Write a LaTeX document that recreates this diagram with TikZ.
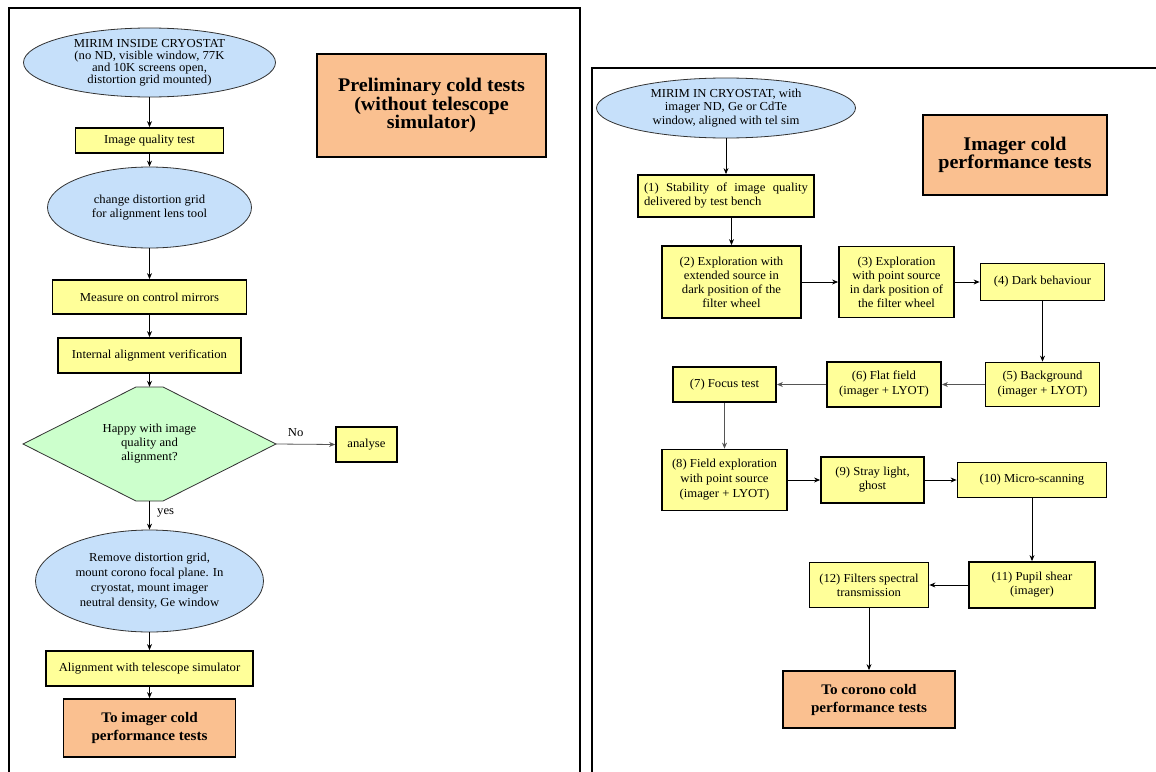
\documentclass[tikz,border=0pt]{standalone}
\usepackage{fontspec}
\setmainfont{Liberation Serif}[FakeStretch=1.04]
\usetikzlibrary{shapes.geometric,arrows.meta}
\definecolor{ellblue}{RGB}{198,224,250}
\definecolor{boxyellow}{RGB}{255,255,153}
\definecolor{orangebox}{RGB}{250,192,144}
\definecolor{diagreen}{RGB}{204,255,204}
\definecolor{edgegray}{RGB}{50,50,50}
\definecolor{arrgray}{RGB}{85,85,85}
\begin{document}
\begin{tikzpicture}[x=1pt,y=-1pt,
  every node/.style={font=\fontsize{12.2}{14}\selectfont},
  wh/.style 2 args={minimum width=#1pt,minimum height=#2pt},
  ell/.style={ellipse,draw=edgegray,line width=0.8pt,fill=ellblue,inner sep=0pt,align=center},
  ybox/.style={rectangle,draw=black,line width=1.8pt,fill=boxyellow,inner sep=2pt,align=center},
  obox/.style={rectangle,draw=black,line width=1.8pt,fill=orangebox,inner sep=2pt,align=center},
  titlefont/.style={font=\fontsize{19.3}{18.5}\selectfont\bfseries},
  tofont/.style={font=\fontsize{14.6}{18}\selectfont\bfseries},
  arr/.style={-{Stealth[length=6pt,width=5pt]},line width=0.8pt,draw=black},
  garr/.style={arr,draw=arrgray},
  frameline/.style={line width=2.2pt,draw=black},
]
\useasboundingbox (0,0) rectangle (1156,771);
\clip (0,0) rectangle (1156,771);
\fill[white] (0,0) rectangle (1156,771);

% frames
\draw[frameline] (9,800) -- (9,8) -- (580,8) -- (580,800);
\draw[frameline] (592,800) -- (592,68) -- (1180,68);

% ---------------- left panel ----------------
\node[ell, wh={252}{69}, font=\fontsize{12.2}{12}\selectfont] (e1) at (149.5,62.5)
  {MIRIM INSIDE CRYOSTAT\\(no ND, visible window, 77K\\and 10K screens open,\\distortion grid mounted)};
\node[ybox, wh={148}{25}] (iq) at (149.5,140.5) {Image quality test};
\node[ell, wh={204}{81}] (e2) at (149.5,207.5) {change distortion grid\\for alignment lens tool};
\node[obox, wh={229}{103}, titlefont] (t1) at (431.5,105.5) {Preliminary cold tests\\(without telescope\\simulator)};
\node[ybox, wh={194}{34}] (ms) at (149.5,297) {Measure on control mirrors};
\node[ybox, wh={183}{35}] (ia) at (149.5,355.5) {Internal alignment verification};

\fill[diagreen,draw=edgegray,line width=0.8pt]
  (23,444) -- (136,387) -- (163,387) -- (276,444) -- (163,501) -- (136,501) -- cycle;
\node[wh={253}{114}, align=center] (dia) at (149.5,444) {Happy with image\\quality and\\alignment?};
\node[ybox, wh={61}{35}] (an) at (366.5,444.5) {analyse};

\node[ell, wh={228}{102}, font=\fontsize{12.2}{15}\selectfont] (e3) at (149.5,581)
  {Remove distortion grid,\\mount corono focal plane. In\\cryostat, mount imager\\neutral density, Ge window};
\node[ybox, wh={207}{35}] (al) at (149.5,668.5) {Alignment with telescope simulator};
\node[obox, wh={172}{58}, tofont] (ti) at (149.5,728) {To imager cold\\performance tests};

\draw[arr] (e1.south) -- (iq.north);
\draw[arr] (iq.south) -- (e2.north);
\draw[arr] (e2.south) -- (ms.north);
\draw[arr] (ms.south) -- (ia.north);
\draw[arr] (ia.south) -- (dia.north);
\draw[garr] (dia.east) -- node[pos=0.33, above=4pt] {No} (an.west);
\draw[arr] (dia.south) -- node[pos=0.4, right=4pt] {yes} (e3.north);
\draw[arr] (e3.south) -- (al.north);
\draw[arr] (al.south) -- (ti.north);

% ---------------- right panel ----------------
\node[ell, wh={259}{60}, font=\fontsize{12.2}{13.5}\selectfont] (re) at (726,108)
  {MIRIM IN CRYOSTAT, with\\imager ND, Ge or CdTe\\window, aligned with tel sim};
\node[obox, wh={184}{80}, titlefont] (t2) at (1015,155) {Imager cold\\performance tests};
\node[ybox, wh={176}{42}, align=left] (b1) at (726,196)
  {\makebox[164pt][s]{(1) Stability of image quality}\\delivered by test bench};
\node[ybox, wh={139}{72}] (b2) at (731.5,282) {(2) Exploration with\\extended source in\\dark position of the\\filter wheel};
\node[ybox, wh={115}{71}] (b3) at (896.5,282) {(3) Exploration\\with point source\\in dark position of\\the filter wheel};
\node[ybox, wh={124}{37}] (b4) at (1042.5,282) {(4) Dark behaviour};
\node[ybox, wh={114}{44}, font=\fontsize{12.2}{15}\selectfont] (b5) at (1042.5,384.5) {(5) Background\\(imager + LYOT)};
\node[ybox, wh={114}{45}, font=\fontsize{12.2}{15}\selectfont] (b6) at (884,384.5) {(6) Flat field\\(imager + LYOT)};
\node[ybox, wh={103}{35}] (b7) at (724.5,384.5) {(7) Focus test};
\node[ybox, wh={125}{61}, font=\fontsize{12.2}{15}\selectfont] (b8) at (724.5,480) {(8) Field exploration\\with point source\\(imager + LYOT)};
\node[ybox, wh={103}{46}] (b9) at (872.5,480) {(9) Stray light,\\ghost};
\node[ybox, wh={149}{35}] (b10) at (1032,480) {(10) Micro-scanning};
\node[ybox, wh={126}{46}] (b11) at (1032,585) {(11) Pupil shear\\(imager)};
\node[ybox, wh={119}{45}] (b12) at (869,585) {(12) Filters spectral\\transmission};
\node[obox, wh={172}{57}, tofont] (tc) at (869,699.5) {To corono cold\\performance tests};

\draw[arr] (re.south) -- (b1.north);
\draw[arr] (b1.south -| b2.north) -- (b2.north);
\draw[arr] (b2.east) -- (b3.west);
\draw[arr] (b3.east) -- (b4.west);
\draw[arr] (b4.south) -- (b5.north);
\draw[garr] (b5.west) -- (b6.east);
\draw[garr] (b6.west) -- (b7.east);
\draw[garr] (b7.south) -- (b8.north);
\draw[arr] (b8.east) -- (b9.west);
\draw[arr] (b9.east) -- (b10.west);
\draw[arr] (b10.south) -- (b11.north);
\draw[arr] (b11.west) -- (b12.east);
\draw[arr] (b12.south) -- (tc.north);
\end{tikzpicture}
\end{document}
